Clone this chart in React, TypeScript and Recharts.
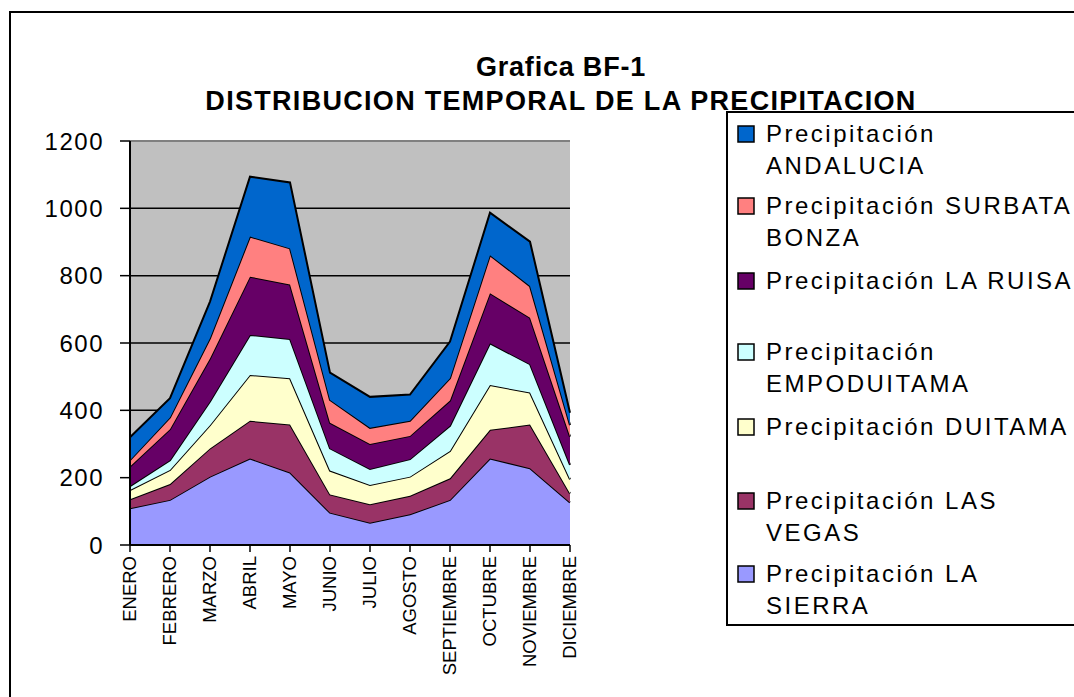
import { AreaChart, Area, XAxis, YAxis, CartesianGrid, Legend, ReferenceLine } from 'recharts';

const months = ['ENERO', 'FEBRERO', 'MARZO', 'ABRIL', 'MAYO', 'JUNIO', 'JULIO', 'AGOSTO', 'SEPTIEMBRE', 'OCTUBRE', 'NOVIEMBRE', 'DICIEMBRE'];

// precipitation per station (stacked bottom -> top)
const laSierra = [109, 134, 203, 257, 215, 96, 66, 91, 134, 257, 228, 126];
const lasVegas = [27, 47, 84, 112, 143, 54, 55, 55, 64, 85, 130, 27];
const duitama = [27, 42, 69, 136, 137, 71, 57, 57, 81, 133, 95, 42];
const empoduitama = [12, 29, 70, 119, 117, 66, 48, 52, 75, 124, 84, 43];
const laRuisa = [58, 92, 128, 173, 162, 76, 74, 69, 75, 149, 138, 84];
const surbataBonza = [19, 35, 60, 119, 107, 68, 48, 45, 66, 113, 94, 34];
const andalucia = [68, 57, 109, 178, 196, 81, 92, 78, 109, 126, 132, 37];

const yTicks = [0, 200, 400, 600, 800, 1000, 1200];

const seriesKeys = ['sierra', 'vegas', 'duitama', 'empoduitama', 'ruisa', 'surbata', 'andalucia'];
const seriesNames = [
  'Precipitación LA SIERRA',
  'Precipitación LAS VEGAS',
  'Precipitación DUITAMA',
  'Precipitación EMPODUITAMA',
  'Precipitación LA RUISA',
  'Precipitación SURBATA BONZA',
  'Precipitación ANDALUCIA',
];
const seriesValues = [laSierra, lasVegas, duitama, empoduitama, laRuisa, surbataBonza, andalucia];
const seriesColors = ['#9999FF', '#993366', '#FFFFCC', '#CCFFFF', '#660066', '#FF8080', '#0066CC'];

// legend text, top -> bottom, as wrapped in the original
const legendLines = [
  ['Precipitación', 'ANDALUCIA'],
  ['Precipitación SURBATA', 'BONZA'],
  ['Precipitación LA RUISA'],
  ['Precipitación', 'EMPODUITAMA'],
  ['Precipitación DUITAMA'],
  ['Precipitación LAS', 'VEGAS'],
  ['Precipitación LA', 'SIERRA'],
];
const legendColors = [...seriesColors].reverse();

const titleLines = ['Grafica BF-1', 'DISTRIBUCION TEMPORAL DE LA PRECIPITACION'];

const data = months.map((m, i) => {
  const row: any = { month: m };
  seriesKeys.forEach((k, j) => {
    row[k] = seriesValues[j][i];
  });
  return row;
});

const FONT = '"Liberation Sans", Arial, sans-serif';

const YTick = (props: any) => {
  const { x, y, payload } = props;
  return (
    <text x={x} y={y} textAnchor="end" dominantBaseline="central" fontSize={24} letterSpacing={1.5} fontFamily={FONT} fill="#000">
      {payload.value}
    </text>
  );
};

const XTick = (props: any) => {
  const { x, y, payload } = props;
  return (
    <text
      x={x - 1}
      y={y}
      transform={`rotate(-90, ${x - 1}, ${y})`}
      textAnchor="end"
      dominantBaseline="central"
      fontSize={18.5}
      fontFamily={FONT}
      fill="#000"
    >
      {payload.value}
    </text>
  );
};

const baselines = [31, 103, 178, 249, 324, 398, 471];

const renderLegend = () => (
  <svg width={420} height={516} style={{ display: 'block' }}>
    <rect x={1} y={1} width={500} height={513} fill="#fff" stroke="#000" strokeWidth={2} />
    {legendLines.map((lines, i) => (
      <g key={i}>
        <rect x={12} y={baselines[i] - 16} width={16} height={16} fill={legendColors[i]} stroke="#000" strokeWidth={1.5} />
        {lines.map((t, j) => (
          <text key={j} x={40} y={baselines[i] + j * 32} fontSize={24} letterSpacing={2.5} fontFamily={FONT} fill="#000">
            {t}
          </text>
        ))}
      </g>
    ))}
  </svg>
);

const App = () => {
  return (
    <div style={{ position: 'absolute', left: 0, top: 0, width: 1074, height: 697, overflow: 'hidden', background: '#fff' }}>
      <svg width={1074} height={697} style={{ position: 'absolute', left: 0, top: 0 }}>
        <rect x={10} y={12} width={1200} height={800} fill="#fff" stroke="#000" strokeWidth={2} />
        <text x={561} y={76} textAnchor="middle" fontSize={27} fontWeight="bold" letterSpacing={0.8} fontFamily={FONT} fill="#000">
          {titleLines[0]}
        </text>
        <text x={561} y={110} textAnchor="middle" fontSize={27} fontWeight="bold" letterSpacing={1.3} fontFamily={FONT} fill="#000">
          {titleLines[1]}
        </text>
      </svg>
      <div style={{ position: 'absolute', left: 0, top: 0 }}>
        <AreaChart width={1074} height={697} data={data} margin={{ top: 141, right: 504, left: 0, bottom: 0 }}>
          <CartesianGrid vertical={false} stroke="#000" strokeWidth={1.5} fill="#C0C0C0" fillOpacity={1} />
          <XAxis
            dataKey="month"
            height={152}
            interval={0}
            tick={<XTick />}
            tickSize={7}
            tickMargin={4}
            axisLine={{ stroke: '#000', strokeWidth: 2 }}
            tickLine={{ stroke: '#000', strokeWidth: 1.5 }}
          />
          <YAxis
            width={130}
            domain={[0, 1200]}
            ticks={yTicks}
            interval={0}
            tick={<YTick />}
            tickSize={10}
            tickMargin={16}
            axisLine={{ stroke: '#000', strokeWidth: 2 }}
            tickLine={{ stroke: '#000', strokeWidth: 1.5 }}
          />
          <ReferenceLine y={1200} stroke="#808080" strokeWidth={2} />
          {seriesKeys.map((k, j) => (
            <Area
              key={k}
              type="linear"
              dataKey={k}
              name={seriesNames[j]}
              stackId="1"
              stroke="#000"
              strokeWidth={2}
              fill={seriesColors[j]}
              fillOpacity={1}
              isAnimationActive={false}
              dot={false}
              activeDot={false}
            />
          ))}
          <Legend
            layout="horizontal"
            align="center"
            verticalAlign="middle"
            content={renderLegend}
            wrapperStyle={{ position: 'absolute', left: 726, top: 111, width: 420, height: 516 }}
          />
        </AreaChart>
      </div>
    </div>
  );
};

export default App;
